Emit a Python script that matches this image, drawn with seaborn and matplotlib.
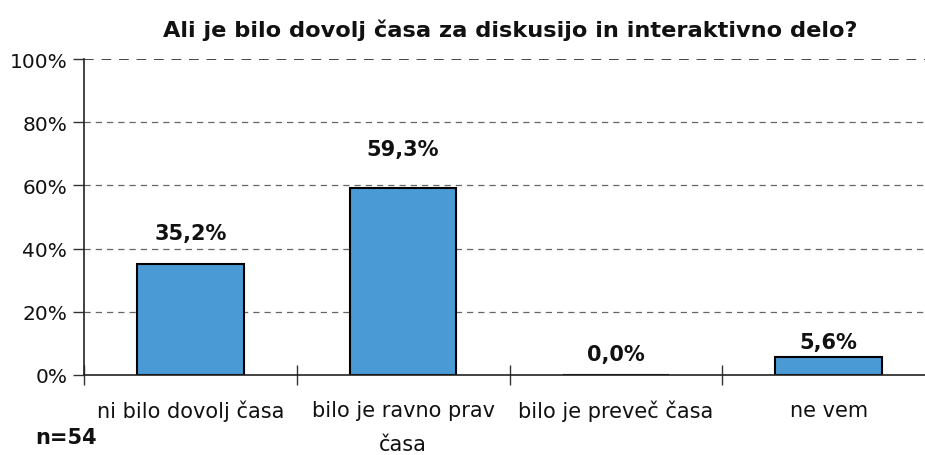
import matplotlib
matplotlib.use("Agg")
import matplotlib.pyplot as plt
import seaborn as sns
import numpy as np
from matplotlib.ticker import FixedLocator, PercentFormatter

categories = ["ni bilo dovolj časa", "bilo je ravno prav\nčasa", "bilo je preveč časa", "ne vem"]
values = [35.2, 59.3, 0.0, 5.6]
value_labels = ["35,2%", "59,3%", "0,0%", "5,6%"]
y_ticks = [0, 20, 40, 60, 80, 100]
title = "Ali je bilo dovolj časa za diskusijo in interaktivno delo?"
note = "n=54"

# label offsets above bars (points)
label_offsets = [22, 28, 15, 11]

sns.set_style("white")
plt.rcParams['font.family'] = ['DejaVu Sans']

fig = plt.figure(figsize=(9.25, 4.56), dpi=100)
# plot area runs a bit past the right edge of the figure, like the original
ax = fig.add_axes([84 / 925, 1 - 376 / 456, 851 / 925, (376 - 60) / 456])

sns.barplot(x=categories, y=values, color="#4A9AD6", saturation=1,
            edgecolor="black", linewidth=1.5, width=0.5, ax=ax)

ax.set_ylim(0, 100)
ax.set_xlim(-0.5, len(categories) - 0.5)
ax.yaxis.set_major_locator(FixedLocator(y_ticks))
ax.yaxis.set_major_formatter(PercentFormatter(decimals=0))

for y in y_ticks[1:]:
    ax.axhline(y, color="#444444" if y == 100 else "#666666",
               linestyle=(0, (5, 4)), linewidth=1.4 if y == 100 else 0.9, zorder=0)

ax.set_axisbelow(True)

# category separators on x axis
ax.xaxis.set_minor_locator(FixedLocator(np.arange(-0.5, len(categories), 1.0)))
ax.tick_params(axis="x", which="major", bottom=False, length=0, pad=18, labelsize=15,
               colors="#111111")
for lab in ax.get_xticklabels():
    lab.set_linespacing(1.9)
ax.tick_params(axis="x", which="minor", bottom=True, length=14, direction="inout", width=1.0,
               color="#333333")
ax.tick_params(axis="y", which="major", left=True, length=8, direction="out", width=1.0,
               color="#333333", labelsize=14.5, pad=4, labelcolor="#111111")
ax.set_xlabel("")
ax.set_ylabel("")

for side in ["top", "right"]:
    ax.spines[side].set_visible(False)
for side in ["left", "bottom"]:
    ax.spines[side].set_color("#222222")
    ax.spines[side].set_linewidth(1.2)

for i, (v, lab) in enumerate(zip(values, value_labels)):
    ax.annotate(lab, (i, v), xytext=(0, label_offsets[i]), textcoords="offset points",
                ha="center", va="center", fontsize=15, fontweight="bold", color="#111111")

fig.text(510 / 925, 1 - 30 / 456, title, ha="center", va="center",
         fontsize=16.2, fontweight="bold", color="#111111")
fig.text(35 / 925, 1 - 438 / 456, note, ha="left", va="center",
         fontsize=15, fontweight="bold", color="#111111")

fig.savefig("out.png", dpi=100)
